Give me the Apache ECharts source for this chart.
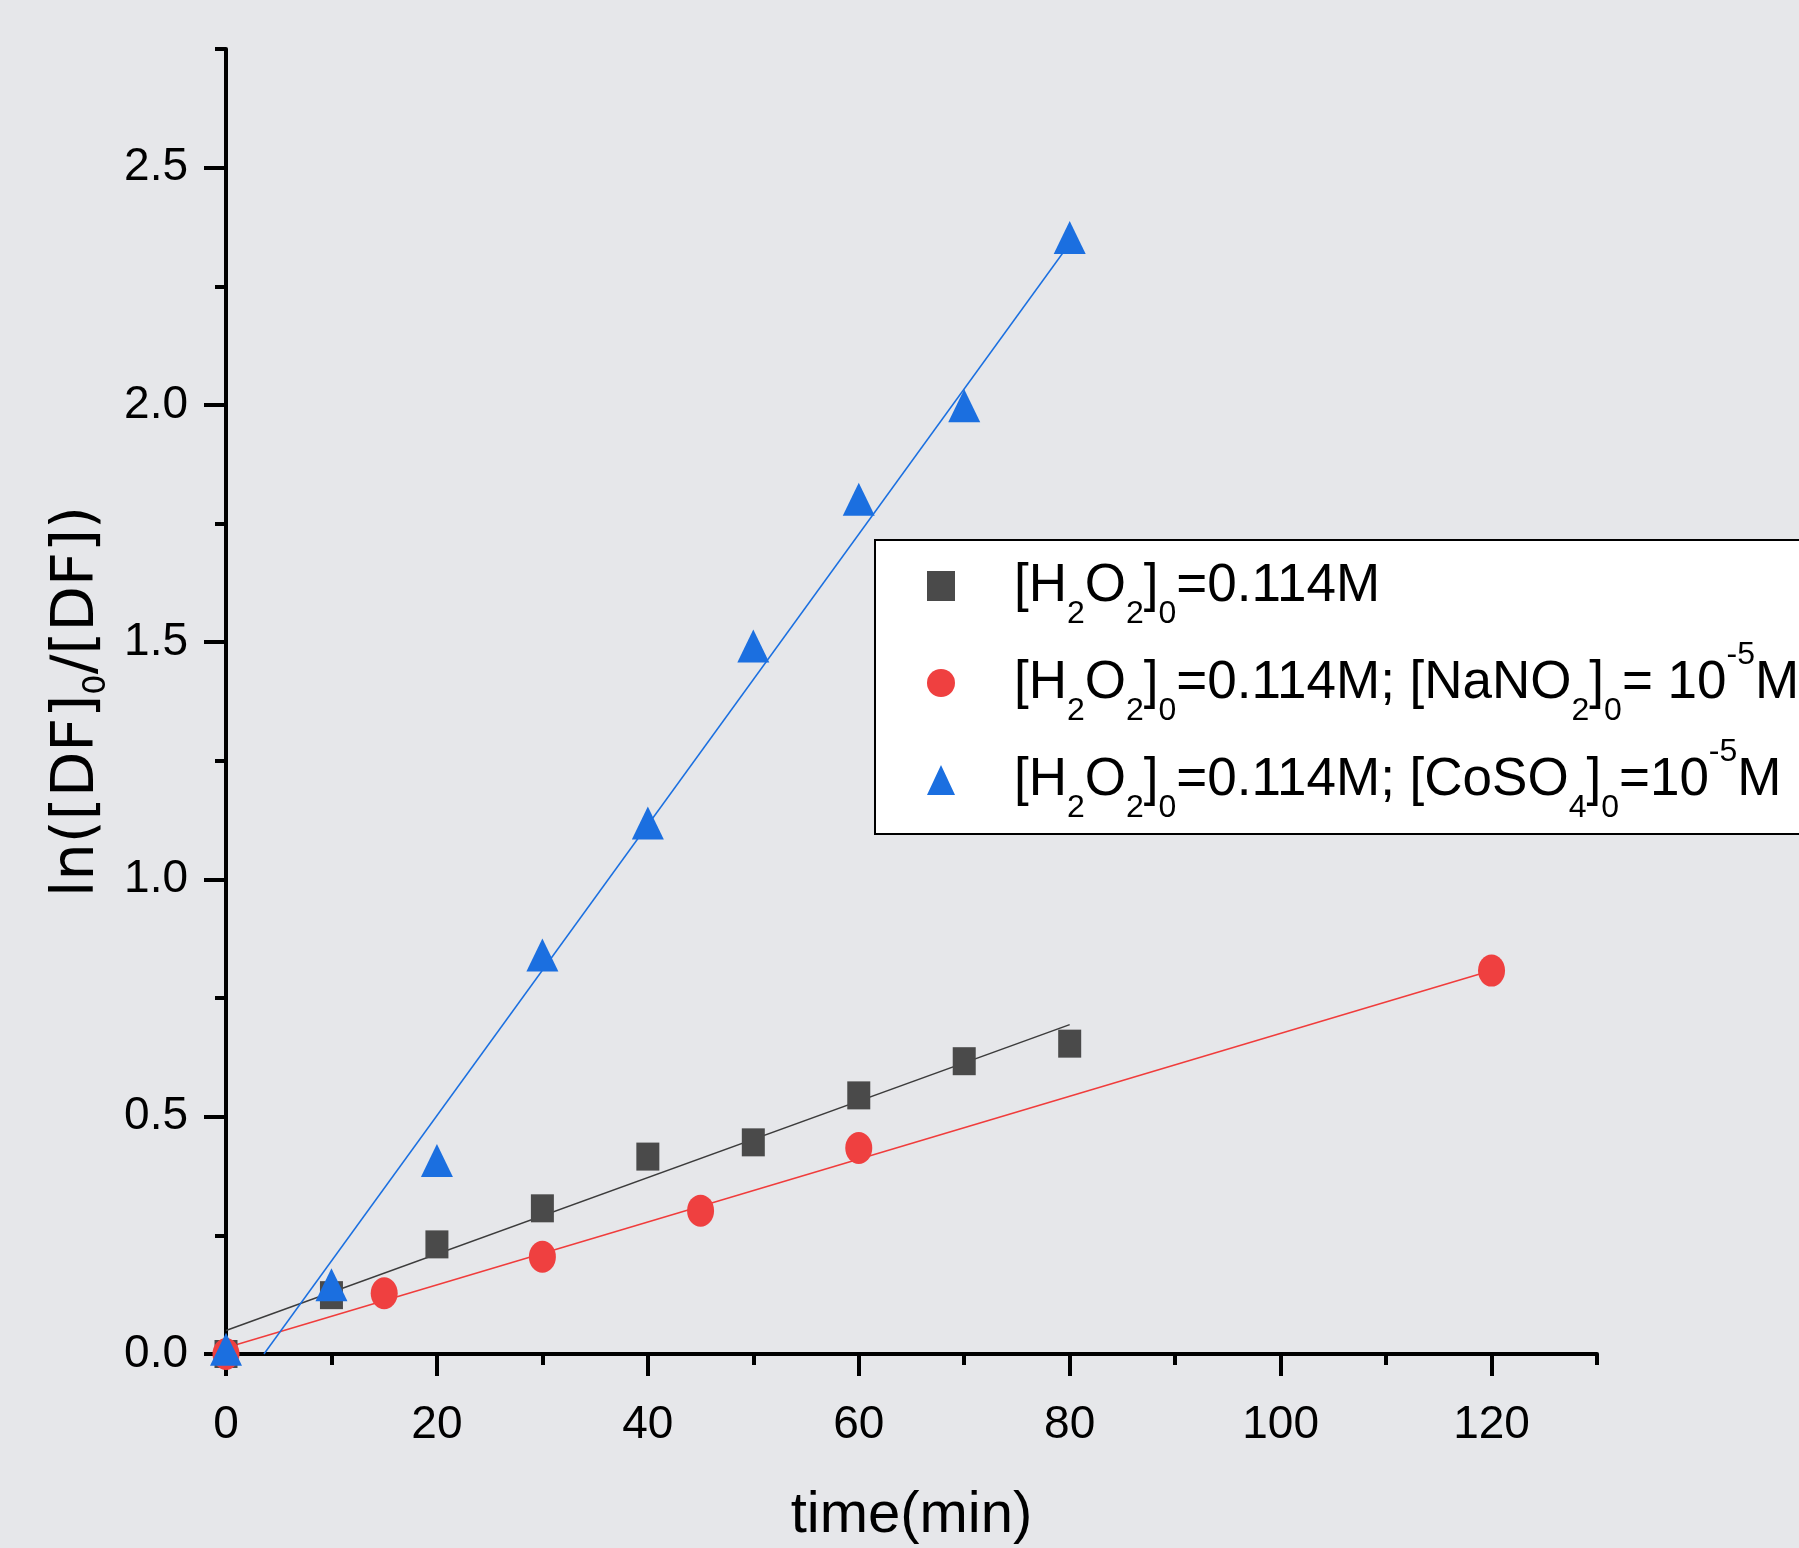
<!DOCTYPE html>
<html><head><meta charset="utf-8">
<script src="https://cdn.jsdelivr.net/npm/echarts@6/dist/echarts.min.js"></script>
<style>html,body{margin:0;padding:0;background:#e6e7ea}#c{width:1799px;height:1548px}</style>
</head><body><div id="c"></div>
<script>
// ---- data ----
const seriesNames = ['[H2O2]0=0.114M', '[H2O2]0=0.114M; [NaNO2]0= 10-5M', '[H2O2]0=0.114M; [CoSO4]0=10-5M'];
const legendLabels = [
  '{g| }[H{s|2}O{s|2}]{s|0}=0.114M',
  '{g| }[H{s|2}O{s|2}]{s|0}=0.114M; [NaNO{s|2}]{s|0}= 10{p|-5}M',
  '{g| }[H{s|2}O{s|2}]{s|0}=0.114M; [CoSO{s|4}]{s|0}=10{p|-5}M'
];
const h2o2Time   = [0, 10, 20, 30, 40, 50, 60, 70, 80];
const h2o2Values = [0.0, 0.124, 0.231, 0.307, 0.416, 0.446, 0.545, 0.617, 0.654];
const nano2Time   = [0, 15, 30, 45, 60, 120];
const nano2Values = [0.0, 0.128, 0.205, 0.302, 0.434, 0.808];
const coso4Time   = [0, 10, 20, 30, 40, 50, 60, 70, 80];
const coso4Values = [0.01, 0.146, 0.408, 0.841, 1.119, 1.492, 1.801, 1.998, 2.353];
const h2o2Fit  = [[0, 0.0496], [80, 0.694]];
const nano2Fit = [[0, 0.013], [120, 0.808]];
const coso4Fit = [[3.6, 0], [80, 2.34]];
const xMajorTicks = [0, 20, 40, 60, 80, 100, 120];
const xMinorTicks = [10, 30, 50, 70, 90, 110, 130];
const yMajorTicks = [0, 0.5, 1.0, 1.5, 2.0, 2.5];
const yMinorTicks = [0.25, 0.75, 1.25, 1.75, 2.25, 2.75];
const xTitle = 'time(min)';
const yTitle = 'ln([DF]{s|0}/[DF])';

const zip = (xs, ys) => xs.map((x, i) => [x, ys[i]]);
const SANS = 'Liberation Sans';

const chart = echarts.init(document.getElementById('c'), null, {renderer: 'canvas'});
const axisCommon = {type: 'value', splitLine: {show: false}};
const tickStyle = {color: '#000', width: 4};
chart.setOption({
  animation: false,
  backgroundColor: '#e6e7ea',
  grid: {left: 226, right: 202, top: 49, bottom: 194, containLabel: false, outerBoundsMode: 'none'},
  xAxis: [
    Object.assign({}, axisCommon, {
      min: 0, max: 130, position: 'bottom',
      axisLine: {show: true, onZero: false, lineStyle: {color: '#000', width: 4}},
      axisTick: {show: true, inside: false, length: 22, customValues: xMajorTicks, lineStyle: tickStyle},
      axisLabel: {customValues: xMajorTicks, fontFamily: SANS, fontSize: 46, color: '#000', margin: 48},
      name: xTitle, nameLocation: 'middle', nameGap: 133,
      nameTextStyle: {fontFamily: SANS, fontSize: 58, color: '#000'}
    }),
    Object.assign({}, axisCommon, {
      min: 0, max: 130, position: 'bottom', offset: 0,
      axisLine: {show: false, onZero: false},
      axisTick: {show: true, inside: false, length: 11, customValues: xMinorTicks, lineStyle: tickStyle},
      axisLabel: {show: false}
    })
  ],
  yAxis: [
    Object.assign({}, axisCommon, {
      min: 0, max: 2.75, position: 'left',
      axisLine: {show: true, onZero: false, lineStyle: {color: '#000', width: 4}},
      axisTick: {show: true, inside: false, length: 22, customValues: yMajorTicks, lineStyle: tickStyle},
      axisLabel: {customValues: yMajorTicks, fontFamily: SANS, fontSize: 46, color: '#000', margin: 38,
        formatter: v => v.toFixed(1)},
      name: yTitle, nameLocation: 'middle', nameGap: 111, nameRotate: 90,
      nameTextStyle: {fontFamily: 'DejaVu Sans', fontSize: 59, lineHeight: 70, color: '#000',
        rich: {s: {fontFamily: 'DejaVu Sans', fontSize: 32, lineHeight: 42, verticalAlign: 'bottom', color: '#000'}}}
    }),
    Object.assign({}, axisCommon, {
      min: 0, max: 2.75, position: 'left', offset: 0,
      axisLine: {show: false, onZero: false},
      axisTick: {show: true, inside: false, length: 11, customValues: yMinorTicks, lineStyle: tickStyle},
      axisLabel: {show: false}
    })
  ],
  legend: {
    orient: 'vertical', left: 875, top: 540,
    data: seriesNames,
    selectedMode: false,
    backgroundColor: '#fff', borderColor: '#000', borderWidth: 2,
    padding: [2, 40, 10, 52],
    itemWidth: 28, itemHeight: 30, itemGap: 9,
    formatter: name => legendLabels[seriesNames.indexOf(name)],
    textStyle: {
      fontFamily: SANS, fontSize: 53, lineHeight: 88, color: '#000',
      rich: {
        g: {width: 54, fontFamily: SANS, fontSize: 53, lineHeight: 88},
        s: {fontFamily: SANS, fontSize: 32, lineHeight: 42, verticalAlign: 'bottom', color: '#000'},
        p: {fontFamily: SANS, fontSize: 32, lineHeight: 50, verticalAlign: 'top', color: '#000'}
      }
    }
  },
  series: [
    {name: 'fit1', type: 'line', data: h2o2Fit, xAxisIndex: 0, yAxisIndex: 0, symbol: 'none', silent: true, z: 2,
      lineStyle: {color: '#3c3c3c', width: 1.5}},
    {name: 'fit2', type: 'line', data: nano2Fit, xAxisIndex: 0, yAxisIndex: 0, symbol: 'none', silent: true, z: 2,
      lineStyle: {color: '#f03c3c', width: 1.5}},
    {name: 'fit3', type: 'line', data: coso4Fit, xAxisIndex: 0, yAxisIndex: 0, symbol: 'none', silent: true, z: 2,
      lineStyle: {color: '#1a6fe0', width: 1.5}},
    {name: seriesNames[0], type: 'scatter', data: zip(h2o2Time, h2o2Values), xAxisIndex: 0, yAxisIndex: 0,
      symbol: 'rect', symbolSize: [23, 28], itemStyle: {color: '#4a4a4a', opacity: 1}, z: 3},
    {name: seriesNames[1], type: 'scatter', data: zip(nano2Time, nano2Values), xAxisIndex: 0, yAxisIndex: 0,
      symbol: 'circle', symbolSize: [27, 32], itemStyle: {color: '#ef4040', opacity: 1}, z: 4},
    {name: seriesNames[2], type: 'scatter', data: zip(coso4Time, coso4Values), xAxisIndex: 0, yAxisIndex: 0,
      symbol: 'triangle', symbolSize: [32, 33], itemStyle: {color: '#1b6fe0', opacity: 1}, z: 5}
  ]
});
</script>
</body></html>
